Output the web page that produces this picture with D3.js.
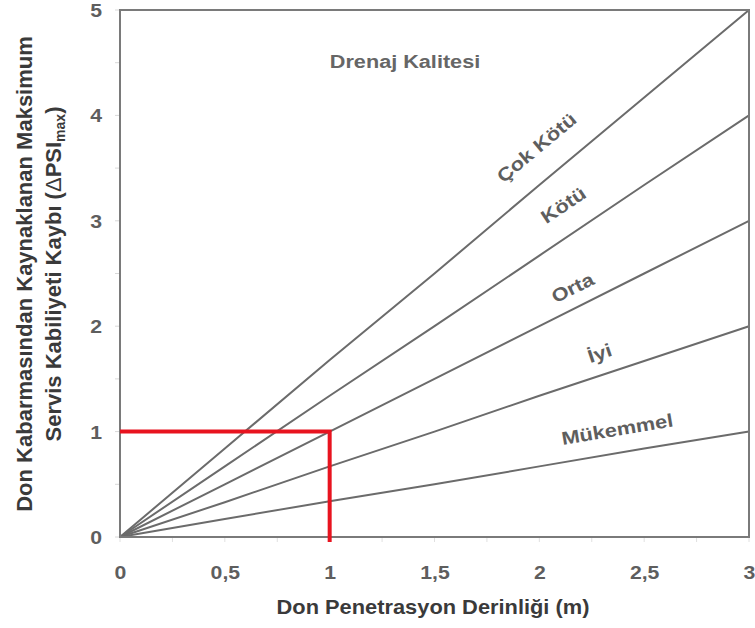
<!DOCTYPE html>
<html>
<head>
<meta charset="utf-8">
<script src="https://cdn.jsdelivr.net/npm/d3@7"></script>
<style>
  html, body { margin: 0; padding: 0; background: #fff; }
  svg text { font-family: "Liberation Sans", Arial, sans-serif; font-weight: bold; }
</style>
</head>
<body>
<div id="chart"></div>
<script>
// Frost penetration depth (m)
const depths = [0, 0.5, 1, 1.5, 2, 2.5, 3];
// Drainage quality classes and their serviceability loss curves
const categories = ["Mükemmel", "İyi", "Orta", "Kötü", "Çok Kötü"];
const mukemmel = [0, 0.17, 0.34, 0.5, 0.67, 0.84, 1];
const iyi      = [0, 0.33, 0.67, 1.0, 1.34, 1.67, 2];
const orta     = [0, 0.5, 1.0, 1.5, 2.0, 2.5, 3];
const kotu     = [0, 0.67, 1.34, 2.0, 2.67, 3.34, 4];
const cokKotu  = [0, 0.84, 1.68, 2.5, 3.34, 4.17, 5];
const seriesValues = [mukemmel, iyi, orta, kotu, cokKotu];
// Label positions along each curve (depth, m) and baseline offset above the curve (px)
const labelDepth = [2.39, 2.32, 2.2, 2.19, 2.08];
const labelOffset = [17, 15, 13, 22, 24];
const xTicks = [0, 0.5, 1, 1.5, 2, 2.5, 3];
const xTickLabels = ["0", "0,5", "1", "1,5", "2", "2,5", "3"];
const yTicks = [0, 1, 2, 3, 4, 5];
const yTickLabels = ["0", "1", "2", "3", "4", "5"];
// Example reading: 1 m penetration -> 1.0 loss
const exampleDepth = 1;
const exampleLoss = 1;

const W = 755, H = 628;
const margin = { left: 120, right: 6, top: 10, bottom: 91 };
const svg = d3.select("#chart").append("svg").attr("width", W).attr("height", H);

const x = d3.scaleLinear().domain([0, 3]).range([margin.left, W - margin.right]);
const y = d3.scaleLinear().domain([0, 5]).range([H - margin.bottom, margin.top]);

const grey = "#6b6b6b";
const textGrey = "#5e5e5e";
const stretch = 1.18;   // wide lettering

// Minor ticks at half units, outside the frame
svg.append("g").selectAll("line").data(d3.range(0, 5.01, 0.5)).join("line")
  .attr("x1", x(0) - 5).attr("x2", x(0)).attr("y1", d => y(d)).attr("y2", d => y(d))
  .attr("stroke", "#d8d8d8").attr("stroke-width", 1);
svg.append("g").selectAll("line").data(d3.range(0, 3.01, 0.25)).join("line")
  .attr("x1", d => x(d)).attr("x2", d => x(d)).attr("y1", y(0)).attr("y2", y(0) + 5)
  .attr("stroke", "#e0e0e0").attr("stroke-width", 1);

// Axes (labels only; frame drawn separately)
const xAxis = d3.axisBottom(x).tickValues(xTicks).tickSize(0).tickPadding(0)
  .tickFormat((d, i) => xTickLabels[i]);
const gx = svg.append("g").attr("transform", `translate(0,${y(0) + 42})`).call(xAxis);
gx.select(".domain").remove();
gx.selectAll("text").attr("font-size", 18).attr("fill", textGrey).attr("dy", 0)
  .attr("transform", `scale(${stretch},1)`);

const yAxis = d3.axisLeft(y).tickValues(yTicks).tickSize(0).tickPadding(0)
  .tickFormat((d, i) => yTickLabels[i]);
const gy = svg.append("g").attr("transform", `translate(${x(0) - 18},0)`).call(yAxis);
gy.select(".domain").remove();
gy.selectAll("text").attr("font-size", 18).attr("fill", textGrey).attr("dy", "0.36em")
  .attr("transform", `scale(${stretch},1)`);

// Curves
const line = d3.line().x((d, i) => x(depths[i])).y(d => y(d));
svg.append("g").selectAll("path").data(seriesValues).join("path")
  .attr("d", d => line(d))
  .attr("fill", "none").attr("stroke", grey).attr("stroke-width", 2);

// Curve labels, rotated along each line
categories.forEach((name, i) => {
  const vals = seriesValues[i];
  const xd = labelDepth[i];
  const vd = d3.scaleLinear().domain(depths).range(vals)(xd);
  const slope = (y(vals[6]) - y(vals[0])) / (x(3) - x(0));
  const ang = Math.atan(slope) * 180 / Math.PI;
  const px = x(xd), py = y(vd);
  const off = labelOffset[i];
  const nx = Math.sin(ang * Math.PI / 180) * off;
  const ny = -Math.cos(ang * Math.PI / 180) * off;
  svg.append("text")
    .attr("transform", `translate(${px + nx},${py + ny}) rotate(${ang}) scale(${stretch},1)`)
    .attr("text-anchor", "middle").attr("font-size", 18.5).attr("fill", textGrey)
    .text(name);
});

// Legend title
svg.append("text").attr("transform", `translate(405,68) scale(${stretch - 0.04},1)`)
  .attr("text-anchor", "middle")
  .attr("font-size", 19).attr("fill", "#666").text("Drenaj Kalitesi");

// Frame
svg.append("rect").attr("x", x(0)).attr("y", y(5)).attr("width", x(3) - x(0)).attr("height", y(0) - y(5))
  .attr("fill", "none").attr("stroke", "#7a7a7a").attr("stroke-width", 2);

// Example reading in red
svg.append("path")
  .attr("d", `M${x(0)},${y(exampleLoss)}H${x(exampleDepth)}V${y(0) + 5}`)
  .attr("fill", "none").attr("stroke", "#e8131f").attr("stroke-width", 4);

// Axis titles
svg.append("text").attr("transform", `translate(433,614) scale(1.12,1)`).attr("text-anchor", "middle")
  .attr("font-size", 19.5).attr("fill", "#3a3a3a").text("Don Penetrasyon Derinliği (m)");

const yt = svg.append("g").attr("transform", "translate(0,274) rotate(-90)");
yt.append("text").attr("x", 0).attr("y", 32).attr("text-anchor", "middle")
  .attr("font-size", 22).attr("fill", "#3a3a3a")
  .text("Don Kabarmasından Kaynaklanan Maksimum");
const t2 = yt.append("text").attr("x", 0).attr("y", 61).attr("text-anchor", "middle")
  .attr("font-size", 22).attr("fill", "#3a3a3a");
t2.append("tspan").text("Servis Kabiliyeti Kaybı (");
t2.append("tspan").attr("font-weight", "normal").text("Δ");
t2.append("tspan").text("PSI");
t2.append("tspan").attr("font-size", 14).attr("dy", 4).text("max");
t2.append("tspan").attr("dy", -4).text(")");
</script>
</body>
</html>
